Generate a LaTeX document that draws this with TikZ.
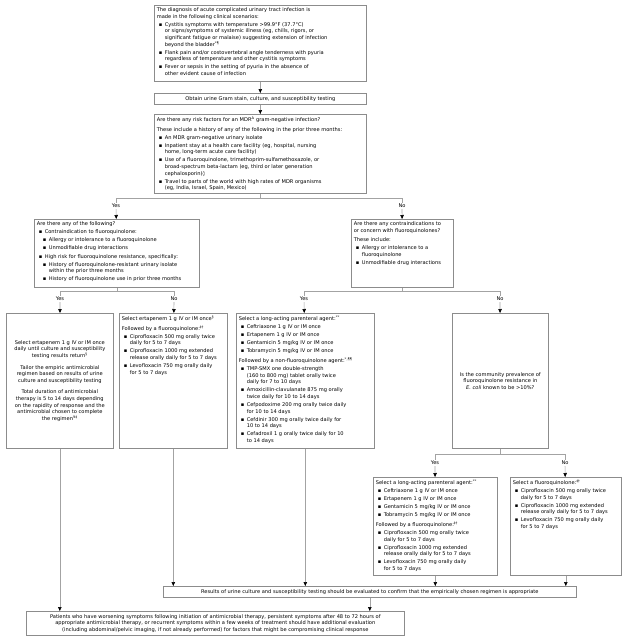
\documentclass[tikz,border=0pt]{standalone}
\usepackage{fontspec}
\setmainfont{DejaVu Sans}
\usetikzlibrary{arrows.meta}

\definecolor{boxgray}{HTML}{8C8C8C}
\definecolor{linegray}{HTML}{A3A3A3}
\newcommand{\chartfont}{\fontsize{5.1}{6.6}\selectfont\setlength{\parskip}{1.5pt}}
\newcommand{\bul}{\par\leftskip=8pt\noindent\llap{▪\hspace{2.5pt}}}
\newcommand{\subbul}{\par\leftskip=12pt\noindent\llap{▪\hspace{2.5pt}}}
\newcommand{\nobul}{\par\vspace{1.5pt}\leftskip=0pt\noindent}

\begin{document}
\begin{tikzpicture}[x=1pt, y=-1pt, >={Triangle[length=4pt,width=3.5pt,color=black]},
  box/.style={draw=boxgray, line width=0.6pt, inner sep=2.5pt, anchor=north west},
  lbl/.style={font=\chartfont, inner sep=1pt},
  conn/.style={draw=linegray, line width=0.6pt}]
  \useasboundingbox (0,0) rectangle (622,640);

  % diagnosis and first question
  \node[box] (diag) at (154,5) {\parbox[c][71pt][t]{207pt}{\chartfont\raggedright
    The diagnosis of acute complicated urinary tract infection is\newline made in the following clinical scenarios:
    \bul Cystitis symptoms with temperature >99.9°F (37.7°C)\newline or signs/symptoms of systemic illness (eg, chills, rigors, or\newline significant fatigue or malaise) suggesting extension of infection\newline beyond the bladder\textsuperscript{*¶}
    \bul Flank pain and/or costovertebral angle tenderness with pyuria\newline regardless of temperature and other cystitis symptoms
    \bul Fever or sepsis in the setting of pyuria in the absence of\newline other evident cause of infection}};
  \node[box] (obtain) at (154,93) {\parbox[c][6pt][c]{207pt}{\chartfont\centering
    Obtain urine Gram stain, culture, and susceptibility testing}};
  \node[box] (mdr) at (154,114) {\parbox[c][74pt][t]{207pt}{\chartfont\raggedright
    Are there any risk factors for an MDR\textsuperscript{Δ} gram-negative infection?
    \nobul These include a history of any of the following in the prior three months:
    \bul An MDR gram-negative urinary isolate
    \bul Inpatient stay at a health care facility (eg, hospital, nursing\newline home, long-term acute care facility)
    \bul Use of a fluoroquinolone, trimethoprim-sulfamethoxazole, or\newline broad-spectrum beta-lactam (eg, third or later generation\newline cephalosporin)◊
    \bul Travel to parts of the world with high rates of MDR organisms\newline (eg, India, Israel, Spain, Mexico)}};

  \node[lbl] (lyes) at (116,206) {Yes};
  \node[lbl] (rno) at (402,206) {No};

  % second row of questions
  \node[box] (anyq) at (34,219) {\parbox[c][63pt][t]{160pt}{\chartfont\raggedright
    Are there any of the following?
    \bul Contraindication to fluoroquinolone:
    \subbul Allergy or intolerance to a fluoroquinolone
    \subbul Unmodifiable drug interactions
    \bul High risk for fluoroquinolone resistance, specifically:
    \subbul History of fluoroquinolone-resistant urinary isolate\newline within the prior three months
    \subbul History of fluoroquinolone use in prior three months}};
  \node[box] (contra) at (351,219) {\parbox[c][63pt][t]{97pt}{\chartfont\raggedright
    Are there any contraindications to\newline or concern with fluoroquinolones?
    \nobul These include:
    \bul Allergy or intolerance to a\newline fluoroquinolone
    \bul Unmodifiable drug interactions}};

  \node[lbl] (yes1) at (60,299) {Yes};
  \node[lbl] (no1) at (174,299) {No};
  \node[lbl] (yes2) at (304,299) {Yes};
  \node[lbl] (no2) at (500,299) {No};

  % regimens
  \node[box] (erta) at (6,313) {\parbox[c][130pt][c]{102pt}{\chartfont\centering
    Select ertapenem 1 g IV or IM once\\ daily until culture and susceptibility\\ testing results return\textsuperscript{§}\\[5pt]
    Tailor the empiric antimicrobial\\ regimen based on results of urine\\ culture and susceptibility testing\\[5pt]
    Total duration of antimicrobial\\ therapy is 5 to 14 days depending\\ on the rapidity of response and the\\ antimicrobial chosen to complete\\ the regimen\textsuperscript{¥‡}}};
  \node[box] (ertafq) at (119,313) {\parbox[c][130pt][t]{103pt}{\chartfont\raggedright
    Select ertapenem 1 g IV or IM once\textsuperscript{§}
    \nobul Followed by a fluoroquinolone:\textsuperscript{‡†}
    \bul Ciprofloxacin 500 mg orally twice\newline daily for 5 to 7 days
    \bul Ciprofloxacin 1000 mg extended\newline release orally daily for 5 to 7 days
    \bul Levofloxacin 750 mg orally daily\newline for 5 to 7 days}};
  \node[box] (longact) at (236,313) {\parbox[c][130pt][t]{133pt}{\chartfont\raggedright
    Select a long-acting parenteral agent:\textsuperscript{**}
    \bul Ceftriaxone 1 g IV or IM once
    \bul Ertapenem 1 g IV or IM once
    \bul Gentamicin 5 mg/kg IV or IM once
    \bul Tobramycin 5 mg/kg IV or IM once
    \nobul Followed by a non-fluoroquinolone agent:\textsuperscript{*,¶¶}
    \bul TMP-SMX one double-strength\newline (160 to 800 mg) tablet orally twice\newline daily for 7 to 10 days
    \bul Amoxicillin-clavulanate 875 mg orally\newline twice daily for 10 to 14 days
    \bul Cefpodoxime 200 mg orally twice daily\newline for 10 to 14 days
    \bul Cefdinir 300 mg orally twice daily for\newline 10 to 14 days
    \bul Cefadroxil 1 g orally twice daily for 10\newline to 14 days}};
  \node[box] (prev) at (452,313) {\parbox[c][130pt][c]{91pt}{\chartfont\centering
    Is the community prevalence of\\ fluoroquinolone resistance in\\ \textit{E. coli} known to be >10\%?}};

  \node[lbl] (yes3) at (435,463) {Yes};
  \node[lbl] (no3) at (565,463) {No};

  \node[box] (lafq) at (373,477) {\parbox[c][93pt][t]{119pt}{\chartfont\raggedright
    Select a long-acting parenteral agent:\textsuperscript{**}
    \bul Ceftriaxone 1 g IV or IM once
    \bul Ertapenem 1 g IV or IM once
    \bul Gentamicin 5 mg/kg IV or IM once
    \bul Tobramycin 5 mg/kg IV or IM once
    \nobul Followed by a fluoroquinolone:\textsuperscript{‡†}
    \bul Ciprofloxacin 500 mg orally twice\newline daily for 5 to 7 days
    \bul Ciprofloxacin 1000 mg extended\newline release orally daily for 5 to 7 days
    \bul Levofloxacin 750 mg orally daily\newline for 5 to 7 days}};
  \node[box] (fq) at (510,477) {\parbox[c][93pt][t]{106pt}{\chartfont\raggedright
    Select a fluoroquinolone:\textsuperscript{‡†}
    \bul Ciprofloxacin 500 mg orally twice\newline daily for 5 to 7 days
    \bul Ciprofloxacin 1000 mg extended\newline release orally daily for 5 to 7 days
    \bul Levofloxacin 750 mg orally daily\newline for 5 to 7 days}};

  % follow-up
  \node[box] (results) at (163,586) {\parbox[c][6pt][c]{408pt}{\chartfont\centering
    Results of urine culture and susceptibility testing should be evaluated to confirm that the empirically chosen regimen is appropriate}};
  \node[box] (eval) at (26,611) {\parbox[c][19pt][c]{373pt}{\chartfont\centering
    Patients who have worsening symptoms following initiation of antimicrobial therapy, persistent symptoms after 48 to 72 hours of\\
    appropriate antimicrobial therapy, or recurrent symptoms within a few weeks of treatment should have additional evaluation\\
    (including abdominal/pelvic imaging, if not already performed) for factors that might be compromising clinical response}};

  \draw[conn, ->] (diag) -- (obtain);
  \draw[conn, ->] (obtain) -- (mdr);
  \draw[conn] (mdr.south) -- ++(0,5) -| (lyes.north);
  \draw[conn] (mdr.south) -- ++(0,5) -| (rno.north);
  \draw[conn, ->] (lyes) -- (anyq);
  \draw[conn, ->] (rno) -- (contra);

  \draw[conn] (anyq.south) -- ++(0,4) -| (yes1.north);
  \draw[conn] (anyq.south) -- ++(0,4) -| (no1.north);
  \draw[conn] (contra.south) -- ++(0,4) -| (yes2.north);
  \draw[conn] (contra.south) -- ++(0,4) -| (no2.north);
  \draw[conn, ->] (yes1) -- (erta);
  \draw[conn, ->] (no1) -- (ertafq);
  \draw[conn, ->] (yes2) -- (longact);
  \draw[conn, ->] (no2) -- (prev);

  \draw[conn] (prev.south) -- ++(0,6) -| (yes3.north);
  \draw[conn] (prev.south) -- ++(0,6) -| (no3.north);
  \draw[conn, ->] (yes3) -- (lafq);
  \draw[conn, ->] (no3) -- (fq);

  \draw[conn, ->] (ertafq.south) -- (ertafq.south |- results.north);
  \draw[conn, ->] (longact.south) -- (longact.south |- results.north);
  \draw[conn, ->] (lafq.south) -- (lafq.south |- results.north);
  \draw[conn, ->] (fq.south) -- (fq.south |- results.north);
  \draw[conn, ->] (erta.south) -- (erta.south |- eval.north);
  \draw[conn, ->] (results.south) -- (results.south |- eval.north);
\end{tikzpicture}
\end{document}
